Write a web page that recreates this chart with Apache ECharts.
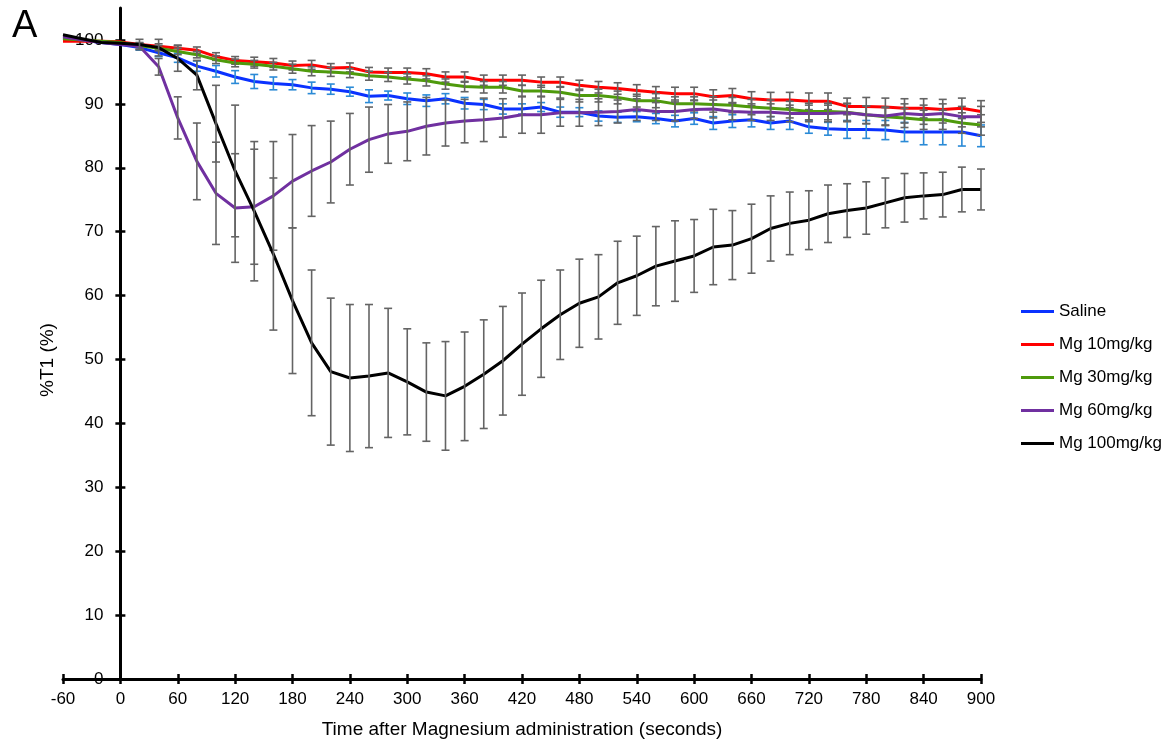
<!DOCTYPE html>
<html>
<head>
<meta charset="utf-8">
<title>%T1 after magnesium administration</title>
<script src="https://cdn.jsdelivr.net/npm/echarts@6/dist/echarts.min.js"></script>
<style>
  html, body { margin: 0; padding: 0; background: #ffffff; }
  #chart { width: 1173px; height: 744px; }
</style>
</head>
<body>
<div id="chart"></div>
<script>
// Sampling times (seconds after administration)
const timeSec = [-60, -40, -20, 0, 20, 40, 60, 80, 100, 120, 140, 160, 180, 200, 220, 240, 260, 280, 300,
  320, 340, 360, 380, 400, 420, 440, 460, 480, 500, 520, 540, 560, 580, 600, 620, 640, 660, 680, 700,
  720, 740, 760, 780, 800, 820, 840, 860, 880, 900];

// Mean %T1 per group
const saline = [100.3, 100.0, 99.6, 99.3, 98.8, 98.0, 97.2, 95.9, 95.1, 94.2, 93.5, 93.2, 93.0, 92.5, 92.3,
  91.9, 91.2, 91.3, 90.8, 90.5, 90.8, 90.1, 89.9, 89.2, 89.2, 89.5, 88.7, 88.7, 88.1, 87.9, 88.0, 87.7,
  87.3, 87.7, 87.0, 87.3, 87.5, 87.0, 87.3, 86.4, 86.1, 86.0, 86.0, 85.9, 85.6, 85.6, 85.6, 85.6, 85.0];
const mg10 = [99.8, 99.8, 99.8, 99.7, 99.3, 99.0, 98.7, 98.4, 97.4, 96.8, 96.6, 96.4, 96.0, 96.1, 95.6,
  95.7, 95.0, 94.9, 94.9, 94.7, 94.2, 94.2, 93.7, 93.7, 93.7, 93.4, 93.4, 92.9, 92.6, 92.4, 92.1, 91.8,
  91.6, 91.6, 91.1, 91.3, 90.8, 90.6, 90.6, 90.4, 90.4, 89.6, 89.6, 89.5, 89.3, 89.3, 89.1, 89.3, 88.8];
const mg30 = [100.2, 100.0, 99.8, 99.6, 99.1, 98.7, 98.2, 97.7, 96.9, 96.4, 96.2, 95.9, 95.5, 95.1, 95.0,
  94.8, 94.4, 94.2, 93.9, 93.6, 93.1, 92.7, 92.6, 92.6, 92.0, 92.0, 91.8, 91.3, 91.3, 91.0, 90.5, 90.5,
  90.0, 90.0, 89.9, 89.8, 89.5, 89.3, 89.1, 88.8, 88.8, 88.7, 88.3, 88.0, 87.8, 87.5, 87.5, 87.0, 86.7];
const mg60 = [100.5, 100.0, 99.6, 99.3, 99.0, 95.8, 87.8, 81.0, 76.0, 73.7, 73.9, 75.6, 77.9, 79.5, 80.9,
  82.9, 84.4, 85.3, 85.7, 86.5, 87.0, 87.3, 87.5, 87.8, 88.3, 88.3, 88.6, 88.6, 88.7, 88.8, 89.1, 88.8,
  88.8, 89.1, 89.2, 88.8, 88.7, 88.7, 88.5, 88.5, 88.5, 88.6, 88.3, 88.1, 88.5, 88.3, 88.5, 88.0, 88.0];
const mg100 = [100.8, 100.2, 99.6, 99.5, 99.3, 98.8, 97.1, 94.5, 86.9, 79.5, 73.2, 66.5, 59.2, 52.6, 48.1,
  47.1, 47.4, 47.9, 46.5, 44.9, 44.3, 45.8, 47.7, 49.8, 52.4, 54.8, 57.0, 58.8, 59.8, 62.0, 63.1, 64.6,
  65.4, 66.2, 67.6, 67.9, 68.9, 70.5, 71.3, 71.8, 72.8, 73.3, 73.7, 74.5, 75.3, 75.6, 75.8, 76.6, 76.6];

// Standard error of the mean per group
const salineErr = [0, 0, 0, 0, 0.4, 0.6, 0.7, 0.8, 0.9, 1.0, 1.1, 1.0, 0.8, 0.9, 0.8,
  0.7, 1.0, 0.7, 0.9, 0.9, 0.8, 0.9, 0.8, 0.8, 0.8, 0.7, 0.8, 0.7, 0.8, 0.8, 0.8, 0.8,
  0.9, 0.9, 1.0, 1.0, 1.1, 1.0, 1.3, 1.0, 1.0, 1.4, 1.4, 1.5, 1.5, 2.0, 2.0, 2.2, 1.7];
const mg10Err = [0, 0, 0, 0, 0.3, 0.4, 0.5, 0.5, 0.6, 0.6, 0.7, 0.7, 0.7, 0.7, 0.7,
  0.7, 0.7, 0.7, 0.7, 0.8, 0.8, 0.8, 0.8, 0.8, 0.8, 0.8, 0.8, 0.8, 0.9, 0.9, 0.9, 0.9,
  1.0, 1.0, 1.1, 1.1, 1.1, 1.2, 1.2, 1.3, 1.3, 1.3, 1.4, 1.4, 1.5, 1.5, 1.6, 1.6, 1.7];
const mg30Err = [0, 0, 0, 0, 0.3, 0.4, 0.5, 0.5, 0.6, 0.6, 0.6, 0.6, 0.7, 0.7, 0.7,
  0.7, 0.7, 0.7, 0.8, 0.8, 0.8, 0.8, 0.9, 0.9, 0.9, 0.9, 0.9, 1.0, 1.0, 1.0, 1.0, 1.1,
  1.1, 1.1, 1.2, 1.2, 1.2, 1.3, 1.3, 1.3, 1.3, 1.4, 1.4, 1.4, 1.5, 1.5, 1.5, 1.6, 1.6];
const mg60Err = [0, 0, 0, 0, 0.5, 1.3, 3.3, 6.0, 8.0, 8.5, 9.0, 8.5, 7.3, 7.1, 6.4,
  5.6, 5.1, 4.6, 4.6, 4.5, 3.6, 3.4, 3.4, 3.0, 2.9, 2.9, 2.1, 2.1, 2.1, 1.8, 1.7, 1.4,
  1.5, 1.4, 1.4, 1.3, 1.3, 1.3, 1.3, 1.3, 1.3, 1.4, 1.4, 1.4, 1.5, 1.5, 1.5, 1.6, 1.6];
const mg100Err = [0, 0, 0, 0, 0.8, 1.3, 2.0, 2.3, 6.0, 10.3, 10.9, 11.9, 11.4, 11.4, 11.5,
  11.5, 11.2, 10.1, 8.3, 7.7, 8.5, 8.5, 8.5, 8.5, 8.0, 7.6, 7.0, 6.9, 6.6, 6.5, 6.2, 6.2,
  6.3, 5.7, 5.9, 5.4, 5.4, 5.1, 4.9, 4.6, 4.5, 4.2, 4.1, 3.9, 3.8, 3.6, 3.5, 3.5, 3.2];

const groupNames = ['Saline', 'Mg 10mg/kg', 'Mg 30mg/kg', 'Mg 60mg/kg', 'Mg 100mg/kg'];
const groupMeans = [saline, mg10, mg30, mg60, mg100];
const groupErrs = [salineErr, mg10Err, mg30Err, mg60Err, mg100Err];
const lineColors = ['#0a32ff', '#ff0000', '#4e9a0c', '#7030a0', '#000000'];
const errColors = ['#2a8ad6', '#646464', '#646464', '#646464', '#646464'];

const xTicks = [-60, 0, 60, 120, 180, 240, 300, 360, 420, 480, 540, 600, 660, 720, 780, 840, 900];
const yTicks = [0, 10, 20, 30, 40, 50, 60, 70, 80, 90, 100];

const FONT = 'Liberation Sans, Arial, sans-serif';
const AXIS_W = 3;
const TICK_W = 2.5;

// Plot area: x from -60 s to 900 s; the y axis is drawn at t = 0
const GRID_LEFT = 63;
const GRID_RIGHT = 192;
const X_MIN = -60;
const X_MAX = 900;
const plotWidth = 1173 - GRID_LEFT - GRID_RIGHT;
const yAxisShift = -(0 - X_MIN) / (X_MAX - X_MIN) * plotWidth;

function lineSeries(k) {
  return {
    type: 'line',
    name: groupNames[k],
    data: timeSec.map((t, i) => [t, groupMeans[k][i]]),
    symbol: 'none',
    lineStyle: { color: lineColors[k], width: 3 },
    itemStyle: { color: lineColors[k] },
    z: 2 + 2 * k,
    silent: true
  };
}

function errorSeries(k) {
  const data = [];
  timeSec.forEach((t, i) => {
    const e = groupErrs[k][i];
    if (e > 0) data.push([t, groupMeans[k][i] - e, groupMeans[k][i] + e]);
  });
  return {
    type: 'custom',
    name: groupNames[k] + ' SEM',
    data,
    encode: { x: 0, y: [1, 2] },
    z: 3 + 2 * k,
    silent: true,
    renderItem(params, api) {
      const x = api.value(0);
      const lo = api.coord([x, api.value(1)]);
      const hi = api.coord([x, api.value(2)]);
      const hw = 4;
      const style = { stroke: errColors[k], lineWidth: 1.6, fill: null };
      return {
        type: 'group',
        children: [
          { type: 'line', shape: { x1: lo[0], y1: lo[1], x2: hi[0], y2: hi[1] }, style },
          { type: 'line', shape: { x1: lo[0] - hw, y1: lo[1], x2: lo[0] + hw, y2: lo[1] }, style },
          { type: 'line', shape: { x1: hi[0] - hw, y1: hi[1], x2: hi[0] + hw, y2: hi[1] }, style }
        ]
      };
    }
  };
}

const series = [];
for (let k = 0; k < groupNames.length; k++) {
  series.push(lineSeries(k));
  series.push(errorSeries(k));
}

const chart = echarts.init(document.getElementById('chart'), null, { renderer: 'canvas' });

chart.setOption({
  animation: false,
  backgroundColor: '#ffffff',
  grid: { left: GRID_LEFT, right: GRID_RIGHT, top: 8, bottom: 63, containLabel: false },
  xAxis: [
    {
      type: 'value', min: X_MIN, max: X_MAX, interval: 60, position: 'bottom',
      axisLine: { show: true, onZero: false, lineStyle: { color: '#000', width: AXIS_W } },
      axisTick: { show: true, inside: false, length: 5, customValues: xTicks, lineStyle: { color: '#000', width: TICK_W } },
      axisLabel: { show: true, customValues: xTicks, color: '#000', fontSize: 17, fontFamily: FONT, margin: 12 },
      splitLine: { show: false },
      name: 'Time after Magnesium administration (seconds)',
      nameLocation: 'middle', nameGap: 41,
      nameTextStyle: { color: '#000', fontSize: 19, fontFamily: FONT }
    },
    {
      type: 'value', min: X_MIN, max: X_MAX, interval: 60, position: 'bottom',
      axisLine: { show: false, onZero: false },
      axisTick: { show: true, inside: true, length: 5, customValues: xTicks, lineStyle: { color: '#000', width: TICK_W } },
      axisLabel: { show: false },
      splitLine: { show: false }
    }
  ],
  yAxis: [
    {
      type: 'value', min: 0, max: 105, interval: 10, position: 'left', offset: yAxisShift,
      axisLine: { show: true, onZero: false, lineStyle: { color: '#000', width: AXIS_W } },
      axisTick: { show: true, inside: false, length: 5, customValues: yTicks, lineStyle: { color: '#000', width: TICK_W } },
      axisLabel: { show: true, customValues: yTicks, color: '#000', fontSize: 17, fontFamily: FONT, margin: 17 },
      splitLine: { show: false }
    },
    {
      type: 'value', min: 0, max: 105, interval: 10, position: 'left', offset: yAxisShift,
      axisLine: { show: false, onZero: false },
      axisTick: { show: true, inside: true, length: 5, customValues: yTicks, lineStyle: { color: '#000', width: TICK_W } },
      axisLabel: { show: false },
      splitLine: { show: false }
    }
  ],
  legend: {
    data: groupNames,
    orient: 'vertical',
    left: 1021,
    top: 303,
    padding: 0,
    itemWidth: 33,
    itemHeight: 3,
    itemGap: 16,
    icon: 'rect',
    selectedMode: false,
    textStyle: { color: '#000', fontSize: 17, fontFamily: FONT, lineHeight: 17 }
  },
  graphic: [
    {
      type: 'text', left: 12, top: 8,
      style: { text: 'A', fontSize: 38, fontFamily: FONT, fill: '#000' }
    },
    {
      type: 'text', x: 48, y: 360, rotation: Math.PI / 2,
      style: { text: '%T1 (%)', fontSize: 19, fontFamily: FONT, fill: '#000', align: 'center', verticalAlign: 'middle' }
    }
  ],
  series
});
</script>
</body>
</html>
